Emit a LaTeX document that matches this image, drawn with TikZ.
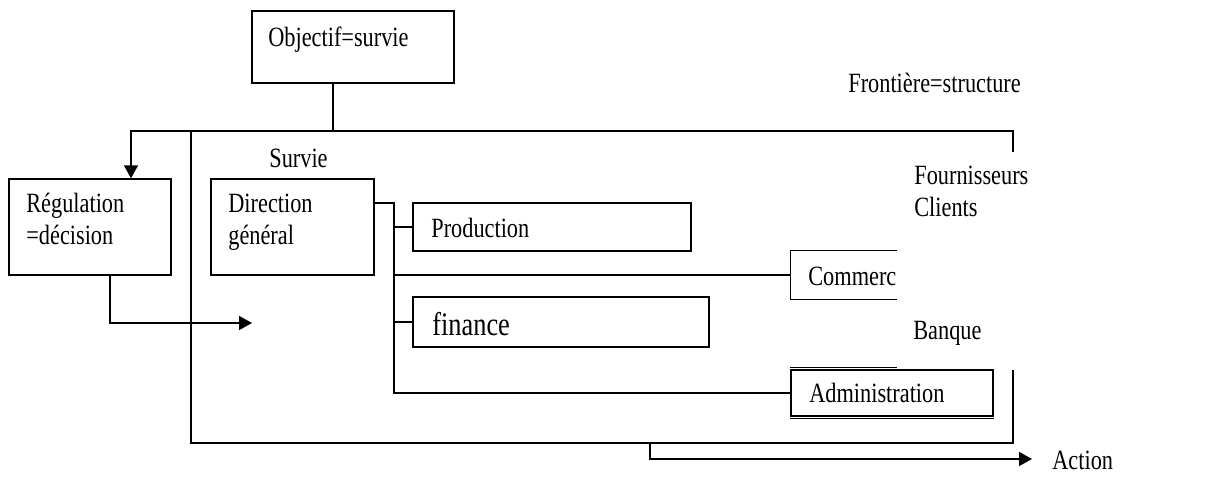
\documentclass[tikz,border=0pt]{standalone}
\usepackage{fontspec}
\setmainfont{Liberation Serif}
\usepackage{tikz}
\usetikzlibrary{arrows.meta,positioning}

\begin{document}
\begin{tikzpicture}[
    x=0.02cm, y=-0.02cm,
    box/.style={rectangle, draw, line width=0.8pt, inner sep=0pt},
    txt/.style={inner sep=0pt, anchor=base west, align=left, font=\fontsize{12.7}{14.6}\selectfont, yscale=1.25, transform shape},
    link/.style={line width=0.8pt},
    arrow/.style={line width=0.8pt, -{Triangle[length=7.4pt,width=8pt]}}
]
    \useasboundingbox (0,0) rectangle (1221,479);

    % Boxes
    \node[box, minimum width=4.04cm, minimum height=1.44cm] (obj) at (353,47) {};
    \node[box, minimum width=3.24cm, minimum height=1.92cm] (reg) at (90,227) {};
    \node[box, minimum width=3.26cm, minimum height=1.92cm] (dir) at (292.5,227) {};
    \node[box, minimum width=5.56cm, minimum height=0.96cm] (prod) at (552,227) {};
    \node[box, draw=none, minimum width=2.1cm, minimum height=0.96cm] (comm) at (843.5,275) {};
    \node[box, minimum width=5.92cm, minimum height=1.0cm] (fin) at (561,322) {};
    \node[box, minimum width=4.04cm, minimum height=0.92cm] (adm) at (892,393) {};

    % Texts (anchor is the baseline of the last line)
    \node[txt] (tobj) at (268,47) {Objectif=survie};
    \node[txt] (tfront) at (848,93) {Frontière=structure};
    \node[txt] (tsurv) at (269,168) {Survie};
    \node[txt] (treg) at (26,245) {Régulation\\=décision};
    \node[txt] (tdir) at (228,245) {Direction\\général};
    \node[txt] (tprod) at (431,238) {Production};
    \node[txt] (tcomm) at (808,286) {Commerc};
    \node[txt, font=\fontsize{15}{18}\selectfont] (tfin) at (432,336) {finance};
    \node[txt] (tadm) at (809,403) {Administration};
    \node[txt] (tfour) at (914,217) {Fournisseurs\\Clients};
    \node[txt] (tbanq) at (913,340) {Banque};
    \node[txt] (action) at (1052,470) {Action};

    % Frame
    \coordinate (top) at (333,131);
    \coordinate (regin) at (131,131);
    \coordinate (fnw) at (191,131);
    \coordinate (fne) at (1013,131);
    \coordinate (fsw) at (191,443);
    \coordinate (fse) at (1013,443);
    \coordinate (fgap1) at (1013,152);
    \coordinate (fgap2) at (1013,370);
    \draw[link] (fgap1) -- (fne) -- (fnw) -- (fsw) -- (fse) -- (fgap2);
    \draw[link] (obj.south -| top) -- (top);
    \draw[arrow] (fnw) -- (regin) -- (regin |- reg.north);

    % Direction links
    \coordinate (bus) at (394,203);
    \draw[link] (dir.east |- bus) -- (bus) -- (bus |- adm.west) -- (adm.west);
    \draw[link] (bus |- prod.west) -- (prod.west);
    \draw[link] (bus |- comm.west) -- (comm.west);
    \draw[link] (bus |- fin.west) -- (fin.west);
    \draw[link] (comm.north east) -- (comm.north west) -- (comm.south west) -- (comm.south east);
    \draw[link] ([yshift=0.04cm]adm.north west) -- ([yshift=0.04cm]adm.north west -| comm.east);
    \draw[link] ([yshift=-0.04cm]adm.south west) -- ([yshift=-0.04cm]adm.south east);

    % Arrows
    \coordinate (regout) at (110,323);
    \coordinate (ctrl) at (252,323);
    \coordinate (actout) at (650,459);
    \draw[arrow] (reg.south -| regout) -- (regout) -- (ctrl);
    \draw[arrow, shorten >=0.4cm] (fsw -| actout) -- (actout) -- (actout -| action.west);
\end{tikzpicture}
\end{document}
